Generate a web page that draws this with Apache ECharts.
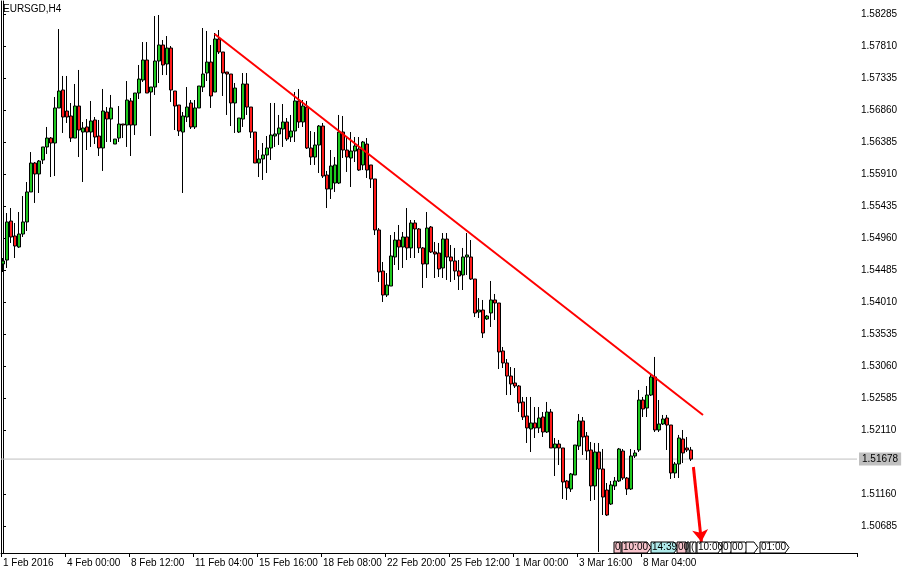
<!DOCTYPE html>
<html><head><meta charset="utf-8">
<script src="https://cdn.jsdelivr.net/npm/echarts@6/dist/echarts.min.js"></script>
<style>html,body{margin:0;padding:0;background:#fff}#c{width:912px;height:578px}</style>
</head><body><div id="c"></div>
<script>
const symbolName = 'EURSGD,H4';
const tickLabels = ['1 Feb 2016','4 Feb 00:00','8 Feb 12:00','11 Feb 04:00','15 Feb 16:00','18 Feb 08:00','22 Feb 20:00','25 Feb 12:00','1 Mar 00:00','3 Mar 16:00','8 Mar 04:00'];
const barsPerTick = 16;
const slotCount = 214;
const priceTicks = [1.58285,1.57810,1.57335,1.56860,1.56385,1.55910,1.55435,1.54960,1.54485,1.54010,1.53535,1.53060,1.52585,1.52110,1.51160,1.50685];
const lastPrice = 1.51678;
// [open, close, low, high]
const candles = [
[1.54574,1.54619,1.54455,1.54663],[1.54633,1.55198,1.54515,1.55331],[1.55212,1.54975,1.54886,1.55405],[1.54990,1.54841,1.54663,1.55183],
[1.54826,1.55019,1.54812,1.55346],[1.55019,1.55198,1.54975,1.55583],[1.55198,1.55643,1.55064,1.55791],[1.55643,1.56073,1.55643,1.56236],
[1.56073,1.55910,1.55480,1.56088],[1.55910,1.56103,1.55628,1.56118],[1.56118,1.56311,1.56058,1.56311],[1.56311,1.56444,1.56207,1.56608],
[1.56444,1.56370,1.55865,1.56459],[1.56370,1.56890,1.55880,1.57053],[1.56890,1.57142,1.56890,1.58062],[1.57157,1.56756,1.56519,1.57365],
[1.56845,1.56756,1.56667,1.57365],[1.56771,1.56444,1.56385,1.56964],[1.56444,1.56919,1.56444,1.57246],[1.56919,1.56563,1.56162,1.57454],
[1.56533,1.56593,1.55791,1.56682],[1.56608,1.56533,1.56266,1.56726],[1.56533,1.56697,1.56311,1.56994],[1.56712,1.56459,1.56355,1.56756],
[1.56474,1.56296,1.56177,1.56712],[1.56296,1.56845,1.55955,1.57172],[1.56830,1.56726,1.56385,1.56904],[1.56726,1.56890,1.56385,1.57083],
[1.56355,1.56429,1.56355,1.56429],[1.56444,1.56652,1.56385,1.56919],[1.56652,1.56637,1.56444,1.56652],[1.56637,1.57008,1.56311,1.57290],
[1.56994,1.56637,1.56177,1.57038],[1.56637,1.57112,1.56489,1.57112],[1.57112,1.57320,1.57023,1.57528],[1.57305,1.57602,1.57276,1.57869],
[1.57602,1.57112,1.57112,1.57869],[1.57127,1.57201,1.56474,1.57201],[1.57201,1.57587,1.57083,1.58255],[1.57587,1.57825,1.57261,1.58270],
[1.57825,1.57528,1.57379,1.57899],[1.57543,1.57780,1.57379,1.57958],[1.57780,1.57157,1.56979,1.57810],[1.57142,1.56919,1.56563,1.57142],
[1.56934,1.56548,1.56474,1.56934],[1.56533,1.56771,1.55628,1.56830],[1.56756,1.56904,1.56682,1.57201],[1.56964,1.56608,1.56578,1.57008],
[1.56608,1.56890,1.56578,1.57008],[1.56890,1.57216,1.56890,1.57216],[1.57201,1.57394,1.57127,1.58077],[1.57409,1.57572,1.57290,1.58033],
[1.57572,1.57068,1.56890,1.57825],[1.57127,1.57914,1.57127,1.58003],[1.57914,1.57721,1.57691,1.58047],[1.57721,1.57409,1.57068,1.57721],
[1.57424,1.57394,1.56786,1.57424],[1.57394,1.56964,1.56622,1.57394],[1.56964,1.57186,1.56519,1.57261],[1.56533,1.56741,1.56519,1.56741],
[1.56726,1.57246,1.56608,1.57409],[1.57246,1.56904,1.56786,1.57409],[1.56904,1.56533,1.56444,1.56904],[1.56533,1.56073,1.56073,1.56533],
[1.56073,1.56133,1.55865,1.56266],[1.56133,1.56192,1.55821,1.56370],[1.56192,1.56296,1.55925,1.56474],[1.56296,1.56489,1.56118,1.56964],
[1.56474,1.56504,1.56311,1.56964],[1.56504,1.56593,1.56340,1.56786],[1.56578,1.56682,1.56311,1.56949],[1.56682,1.56429,1.56400,1.56741],
[1.56459,1.56548,1.56385,1.56786],[1.56548,1.56994,1.56385,1.57127],[1.56994,1.56682,1.56593,1.57172],[1.56682,1.56919,1.56608,1.57008],
[1.56904,1.56296,1.56281,1.56994],[1.56296,1.56162,1.56044,1.56548],[1.56162,1.56340,1.56044,1.56533],[1.56340,1.56622,1.55925,1.56637],
[1.56622,1.55880,1.55851,1.56667],[1.55895,1.55687,1.55405,1.55955],[1.55687,1.56029,1.55539,1.56266],[1.55776,1.56044,1.55643,1.56162],
[1.55776,1.56533,1.55761,1.56786],[1.56533,1.56266,1.56147,1.56771],[1.56266,1.56162,1.55940,1.56444],[1.56147,1.56251,1.55717,1.56533],
[1.56251,1.56326,1.56088,1.56459],[1.56281,1.55969,1.55955,1.56459],[1.56044,1.56385,1.55969,1.56400],[1.56355,1.55969,1.55851,1.56444],
[1.56044,1.55836,1.55702,1.56044],[1.55836,1.55079,1.55004,1.55836],[1.55079,1.54455,1.54307,1.55108],[1.54470,1.54114,1.54010,1.54604],
[1.54114,1.54262,1.54084,1.54440],[1.54247,1.54693,1.54247,1.55004],[1.54678,1.54930,1.54559,1.55049],[1.54930,1.54826,1.54485,1.55153],
[1.54826,1.54975,1.54515,1.55049],[1.54975,1.54812,1.54633,1.55405],[1.54812,1.55183,1.54663,1.55227],[1.55183,1.55094,1.54663,1.55227],
[1.55094,1.54812,1.54737,1.55108],[1.54812,1.54574,1.54218,1.54826],[1.54574,1.55108,1.54366,1.55346],[1.55123,1.54752,1.54737,1.55138],
[1.54752,1.54722,1.54366,1.54901],[1.54737,1.54500,1.54381,1.54886],[1.54515,1.54945,1.54366,1.55034],[1.54945,1.54678,1.54337,1.55034],
[1.54678,1.54619,1.54307,1.54856],[1.54619,1.54470,1.54337,1.54812],[1.54470,1.54396,1.54188,1.54633],[1.54411,1.54678,1.54188,1.54812],
[1.54678,1.54708,1.54411,1.55034],[1.54678,1.54351,1.54337,1.54930],[1.54351,1.53847,1.53787,1.54351],[1.53861,1.53891,1.53772,1.54069],
[1.53891,1.53550,1.53476,1.54040],[1.53758,1.53802,1.53743,1.53817],[1.53847,1.54040,1.53639,1.54322],[1.54040,1.53995,1.53743,1.54129],
[1.53995,1.53268,1.53015,1.53995],[1.53283,1.53105,1.53030,1.53342],[1.53105,1.52911,1.52629,1.53164],[1.52911,1.52793,1.52629,1.53045],
[1.52808,1.52763,1.52733,1.53030],[1.52763,1.52511,1.52377,1.52778],[1.52526,1.52303,1.52258,1.52600],[1.52318,1.52140,1.51917,1.52600],
[1.52125,1.52214,1.51783,1.52600],[1.52214,1.52140,1.51991,1.52451],[1.52140,1.52288,1.52065,1.52451],[1.52303,1.52080,1.52006,1.52377],
[1.52080,1.52377,1.52065,1.52526],[1.52377,1.51843,1.51843,1.52422],[1.51843,1.51902,1.51427,1.51991],[1.51902,1.51843,1.51590,1.51962],
[1.51843,1.51338,1.51086,1.51843],[1.51353,1.51249,1.51071,1.51368],[1.51234,1.51457,1.51190,1.51472],[1.51442,1.51887,1.51442,1.51887],
[1.51872,1.52244,1.51813,1.52347],[1.52244,1.52006,1.51739,1.52303],[1.52021,1.51798,1.51665,1.52080],[1.51813,1.51279,1.51056,1.51932],
[1.51279,1.51783,1.51071,1.51917],[1.51783,1.51531,1.50299,1.51917],[1.51531,1.51115,1.50848,1.51828],[1.51219,1.50848,1.50833,1.51323],
[1.51011,1.51294,1.50997,1.51353],[1.51279,1.51353,1.51219,1.51412],[1.51353,1.51828,1.51338,1.51843],[1.51798,1.51397,1.51368,1.51828],
[1.51397,1.51234,1.51145,1.51412],[1.51234,1.51724,1.51219,1.51828],[1.51724,1.51769,1.51694,1.51813],[1.51813,1.52555,1.51783,1.52704],
[1.52555,1.52422,1.52303,1.52600],[1.52436,1.52629,1.52303,1.52763],[1.52629,1.52897,1.52615,1.52956],[1.52897,1.52110,1.52080,1.53194],
[1.52110,1.52199,1.52080,1.52555],[1.52199,1.52273,1.52184,1.52333],[1.52288,1.52184,1.51813,1.52333],[1.52184,1.51472,1.51383,1.52184],
[1.51472,1.51605,1.51397,1.51635],[1.51605,1.51991,1.51397,1.52036],[1.51976,1.51769,1.51620,1.52110],[1.51843,1.51813,1.51783,1.52006],
[1.51813,1.51678,1.51650,1.51858]
];
// [bar index, price]
const trendLine = [[52.9, 1.57988], [175.0, 1.52333]];
const arrowLine = [[172.6, 1.51561], [174.6, 1.50450]];
// bottom session badges: [x0, x1, text, fill, pointed]
const badges = [
  [614, 621, '0', '#f8c4cc', false],
  [622, 647, '10:00', '#f8c4cc', true],
  [651, 674, '14:39', '#aeeaea', true],
  [677, 686, '00', '#f8c4cc', false],
  [687, 689, '', '#ffffff', false],
  [690, 696, '(', '#ffffff', false],
  [697, 718, '10:00', '#ffffff', true],
  [722, 730, '0', '#ffffff', true],
  [731, 745, '00', '#ffffff', true],
  [746, 754, '', '#ffffff', true],
  [760, 785, '01:00', '#ffffff', true]
];

const FONT = 'Liberation Sans';
const slots = Array.from({length: slotCount}, (_, i) => String(i));
const showTick = (i) => i % barsPerTick === 0 && (i / barsPerTick) < tickLabels.length;

const badgeGraphics = [];
badges.forEach(([x0, x1, t, fill, tip]) => {
  const y0 = 542, y1 = 553, ym = (y0 + y1) / 2;
  const pts = tip ? [[x0, y0], [x1, y0], [x1 + 4, ym], [x1, y1], [x0, y1]] : [[x0, y0], [x1, y0], [x1, y1], [x0, y1]];
  badgeGraphics.push({type: 'polygon', shape: {points: pts}, style: {fill: fill, stroke: '#000', lineWidth: 1}, z: 50});
  if (t) badgeGraphics.push({type: 'text', x: x0 + 1, y: ym, style: {text: t, fill: '#000', font: '10px "' + FONT + '"', textVerticalAlign: 'middle'}, z: 51});
});

const chart = echarts.init(document.getElementById('c'), null, {renderer: 'canvas'});
chart.setOption({
  animation: false,
  backgroundColor: '#ffffff',
  textStyle: {fontFamily: FONT},
  grid: {left: 1, top: 1, right: 55, bottom: 25, containLabel: false, outerBoundsMode: 'none', show: false},
  xAxis: [{
    type: 'category', data: slots, boundaryGap: true,
    axisLine: {show: true, lineStyle: {color: '#000', width: 1}},
    axisTick: {show: true, interval: (i) => showTick(i), length: 4, lineStyle: {color: '#000'}},
    axisLabel: {show: true, interval: (i) => showTick(i), formatter: (v, i) => showTick(i) ? tickLabels[i / barsPerTick] : '', align: 'left', margin: 5, color: '#000', fontSize: 10, fontFamily: FONT},
    splitLine: {show: false}
  }, {
    type: 'value', min: -0.5, max: slotCount - 0.5, show: false
  }],
  yAxis: [{
    type: 'value', position: 'right', min: 1.50284, max: 1.58478, scale: true,
    axisLine: {show: true, lineStyle: {color: '#000'}},
    axisTick: {show: true, length: 3, customValues: priceTicks, lineStyle: {color: '#000'}},
    axisLabel: {show: true, customValues: priceTicks, formatter: (v) => v.toFixed(5), margin: 4, color: '#000', fontSize: 10, fontFamily: FONT},
    splitLine: {show: false}
  }, {
    type: 'value', position: 'left', min: 1.50284, max: 1.58478, scale: true,
    axisLine: {show: true, onZero: false, lineStyle: {color: '#000'}},
    axisTick: {show: false}, axisLabel: {show: false}, splitLine: {show: false}
  }],
  series: [{
    type: 'candlestick', data: candles, barWidth: 3,
    itemStyle: {color: '#1ec81e', color0: '#ff1a1a', borderColor: '#000', borderColor0: '#000', borderWidth: 1},
    z: 3
  }, {
    type: 'line', xAxisIndex: 1, yAxisIndex: 0, symbol: 'none', silent: true, clip: false,
    lineStyle: {color: '#c0c0c0', width: 1},
    endLabel: {show: true, distance: 2, formatter: () => lastPrice.toFixed(5), backgroundColor: '#c0c0c0', color: '#000', padding: [2, 3, 1, 3], fontSize: 10, fontFamily: FONT},
    data: [[-0.5, lastPrice], [slotCount - 0.5, lastPrice]], z: 2
  }, {
    type: 'lines', coordinateSystem: 'cartesian2d', xAxisIndex: 1, yAxisIndex: 0, polyline: false,
    symbol: ['none', 'none'], lineStyle: {color: '#ff0000', width: 2, opacity: 1},
    data: [{coords: trendLine}], z: 4
  }, {
    type: 'lines', coordinateSystem: 'cartesian2d', xAxisIndex: 1, yAxisIndex: 0, polyline: false,
    symbol: ['none', 'arrow'], symbolSize: 12, lineStyle: {color: '#ff0000', width: 3, opacity: 1},
    data: [{coords: arrowLine}], z: 4
  }],
  graphic: [
    {type: 'text', left: 3, top: 4, style: {text: symbolName, fill: '#000', font: '10px "' + FONT + '"'}, z: 60}
  ].concat(badgeGraphics)
});
</script></body></html>
